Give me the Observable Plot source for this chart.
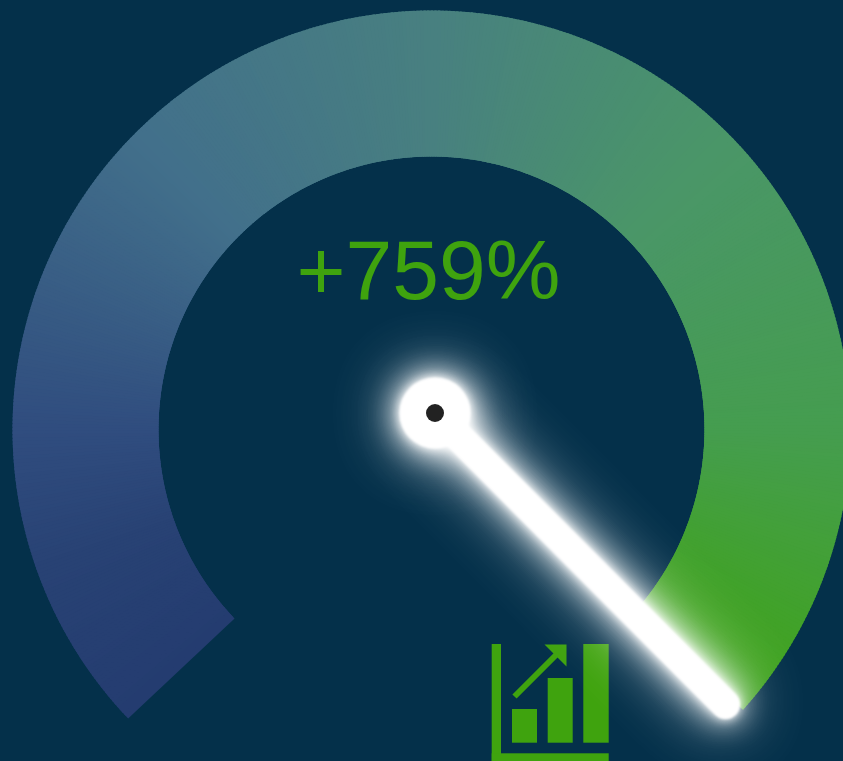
<!DOCTYPE html>
<html>
<head>
<meta charset="utf-8">
<script src="https://cdn.jsdelivr.net/npm/d3@7"></script>
<script src="https://cdn.jsdelivr.net/npm/@observablehq/plot@0.6"></script>
<style>
html,body{margin:0;padding:0;background:#04304a;overflow:hidden}
svg{display:block}
</style>
</head>
<body>
<div id="chart"></div>
<script>
const label = "+759%";
const stopAngles = [-133.7, -110, -90, -45, 0, 45, 90, 125, 132];
const stopColors = ["#243c70", "#284274", "#304d7f", "#42708b", "#488080", "#4a9668", "#459d4f", "#40a320", "#40a320"];
const arcCenter = [431, 429];
const arcRadii = [273, 419];
const hub = [434.5, 412.5];
const tip = [725, 704];
const barX1 = [512, 547.7, 583.3];
const barX2 = [537, 572.7, 608.7];
const barTop = [709, 678, 644];
const barBase = 742.7;
const arrowHeadX = [544, 566, 566];
const arrowHeadY = [644, 644, 666];

const green = "#3fa30e";
const midR = (arcRadii[0] + arcRadii[1]) / 2;
const polar = (a) => {
  const t = (a * Math.PI) / 180;
  return [arcCenter[0] + midR * Math.sin(t), arcCenter[1] - midR * Math.cos(t)];
};
const lastAngle = stopAngles[stopAngles.length - 1];
const wedges = d3.range(stopAngles[0], lastAngle, 0.5).map((a) => {
  const [x1, y1] = polar(a);
  const [x2, y2] = polar(Math.min(a + 1, lastAngle));
  return {a, x1, y1, x2, y2};
});
const bars = barX1.map((x, i) => ({x1: x, x2: barX2[i], y1: barTop[i], y2: barBase}));
const head = arrowHeadX.map((x, i) => ({x, y: arrowHeadY[i]}));
const glow = "blur(1px) drop-shadow(0 0 5px #ffffff) drop-shadow(0 0 14px #ffffff) drop-shadow(0 0 30px #ffffffaa)";
const needle = [{x1: hub[0], y1: hub[1], x2: tip[0], y2: tip[1]}];

const chart = Plot.plot({
  width: 843,
  height: 761,
  margin: 0,
  style: {background: "#04304a", overflow: "hidden"},
  x: {domain: [0, 843], range: [0, 843], axis: null},
  y: {domain: [0, 761], range: [0, 761], axis: null},
  color: {type: "linear", domain: stopAngles, range: stopColors, interpolate: "rgb"},
  marks: [
    Plot.link(wedges, {x1: "x1", y1: "y1", x2: "x2", y2: "y2", stroke: "a", strokeWidth: arcRadii[1] - arcRadii[0], strokeLinecap: "butt"}),
    Plot.text([label], {x: 428, y: 272, text: (d) => d, fill: green, fontSize: 84, fontFamily: "Liberation Sans", textAnchor: "middle"}),
    // icon
    Plot.rect([{x1: 491.7, x2: 501, y1: 644, y2: 761}, {x1: 491.7, x2: 608.7, y1: 753.3, y2: 761}], {x1: "x1", x2: "x2", y1: "y1", y2: "y2", fill: green}),
    Plot.rect(bars, {x1: "x1", x2: "x2", y1: "y1", y2: "y2", fill: green}),
    Plot.link([{x1: 514, y1: 696, x2: 558, y2: 652}], {x1: "x1", y1: "y1", x2: "x2", y2: "y2", stroke: green, strokeWidth: 6, strokeLinecap: "butt"}),
    Plot.line(head, {x: "x", y: "y", fill: green, stroke: "none"}),
    // needle + hub
    Plot.link(needle, {x1: "x1", y1: "y1", x2: "x2", y2: "y2", stroke: "#ffffff", strokeWidth: 29, strokeLinecap: "round", imageFilter: glow}),
    Plot.dot([hub], {x: (d) => d[0], y: (d) => d[1], r: 35.5, fill: "#ffffff", imageFilter: glow}),
    Plot.dot([hub], {x: (d) => d[0], y: (d) => d[1], r: 9, fill: "#222222"})
  ]
});
document.getElementById("chart").append(chart);
</script>
</body>
</html>
